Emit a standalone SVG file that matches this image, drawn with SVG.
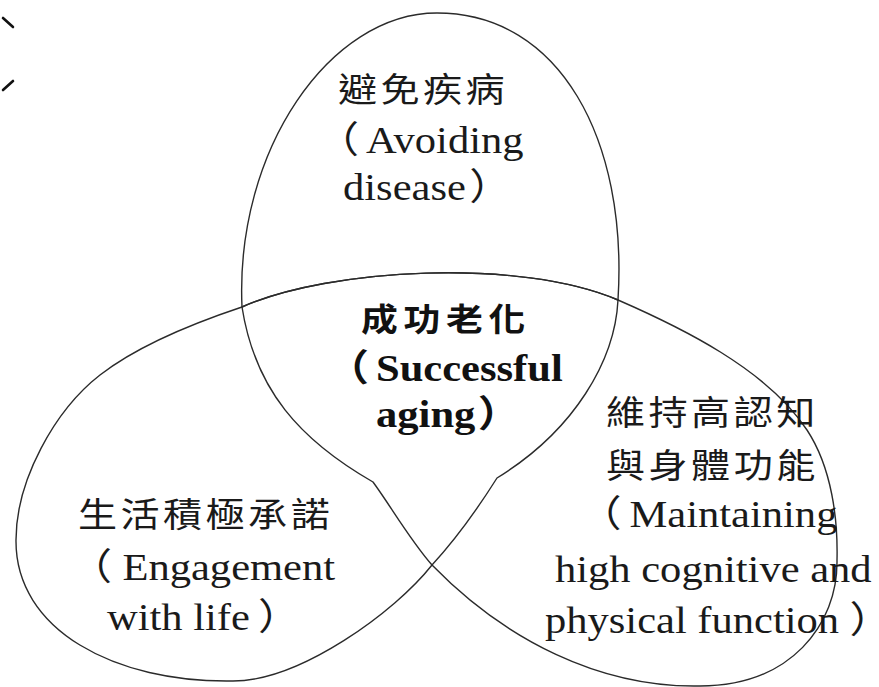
<svg xmlns="http://www.w3.org/2000/svg" width="879" height="687" viewBox="0 0 879 687">
<defs>
<style>
.ln{fill:none;stroke:#2b2b2b;stroke-width:1.4;stroke-linejoin:round;stroke-linecap:round}
.mk{fill:none;stroke:#111;stroke-width:2.6;stroke-linecap:round}
.cjk{font-family:"Noto Sans CJK TC","Noto Sans CJK SC",sans-serif;font-size:34px;letter-spacing:3px;fill:#1a1a1a}
.cjkb{font-family:"Noto Sans CJK TC","Noto Sans CJK SC",sans-serif;font-size:32px;letter-spacing:5px;font-weight:700;fill:#111}
.en{font-family:"Liberation Serif","Noto Sans CJK TC",serif;font-size:37px;fill:#1a1a1a}
.enb{font-family:"Liberation Serif","Noto Sans CJK TC",serif;font-size:37px;font-weight:700;fill:#111}
.half{font-feature-settings:"halt"}
</style>
</defs>
<rect width="879" height="687" fill="#ffffff"/>
<g id="marks">
<path class="mk" d="M3,18 L13,27"/>
<path class="mk" d="M3,90 L13,81"/>
</g>
<g id="connectors">
</g>
<g id="avoiding-disease">
<path class="ln" d="M242,307 C235,150 330,13 437,13 C560,13 628,140 618,300"/>
<g transform="scale(1.15 1)">
<text class="cjk" x="293.9" y="102">避免疾病</text>
<text class="en" x="275.3" y="153"><tspan>（</tspan><tspan dx="6">Avoiding</tspan></text>
<text class="en" x="298.3" y="200"><tspan>disease</tspan><tspan dx="3">）</tspan></text>
</g>
</g>
<g id="engagement-with-life">
<path class="ln" d="M242,307 C330,268 520,258 618,300 C615,360 575,430 497,478 C480,505 455,540 432,565 C395,612 300,681 233,681 C115,683 15,630 16,540 C16,480 55,410 100,375 C140,344 203,320 242,307 Z"/>
<g transform="scale(1.15 1)">
<text class="cjk" x="67.8" y="527">生活積極承諾</text>
<text class="en" x="60.5" y="580"><tspan>（</tspan><tspan dx="9">Engagement</tspan></text>
<text class="en" x="93" y="630"><tspan>with life</tspan><tspan dx="7">）</tspan></text>
</g>
</g>
<g id="maintaining-function">
<path class="ln" d="M242,307 C330,268 520,258 618,300 C680,327 767,369 807,430 C832,468 838,520 837,560 C838,625 790,686 700,686 C600,688 505,640 432,565 C410,540 390,505 373,482 C300,440 255,390 242,307 Z"/>
<g transform="scale(1.15 1)">
<text class="cjk" x="527" y="425">維持高認知</text>
<text class="cjk" x="527" y="478">與身體功能</text>
<text class="en" x="503.4" y="527"><tspan>（</tspan><tspan dx="7">Maintaining</tspan></text>
<text class="en" x="482.6" y="582">high cognitive and</text>
<text class="en" x="473.9" y="633"><tspan>physical function</tspan><tspan class="half" dx="9">）</tspan></text>
</g>
</g>
<g id="successful-aging">
<g transform="scale(1.15 1)">
<text class="cjkb" x="313.9" y="331">成功老化</text>
<text class="enb" x="284" y="381"><tspan>（</tspan><tspan dx="6">Successful</tspan></text>
<text class="enb" x="327" y="427"><tspan>aging</tspan><tspan dx="2">）</tspan></text>
</g>
</g>
</svg>
